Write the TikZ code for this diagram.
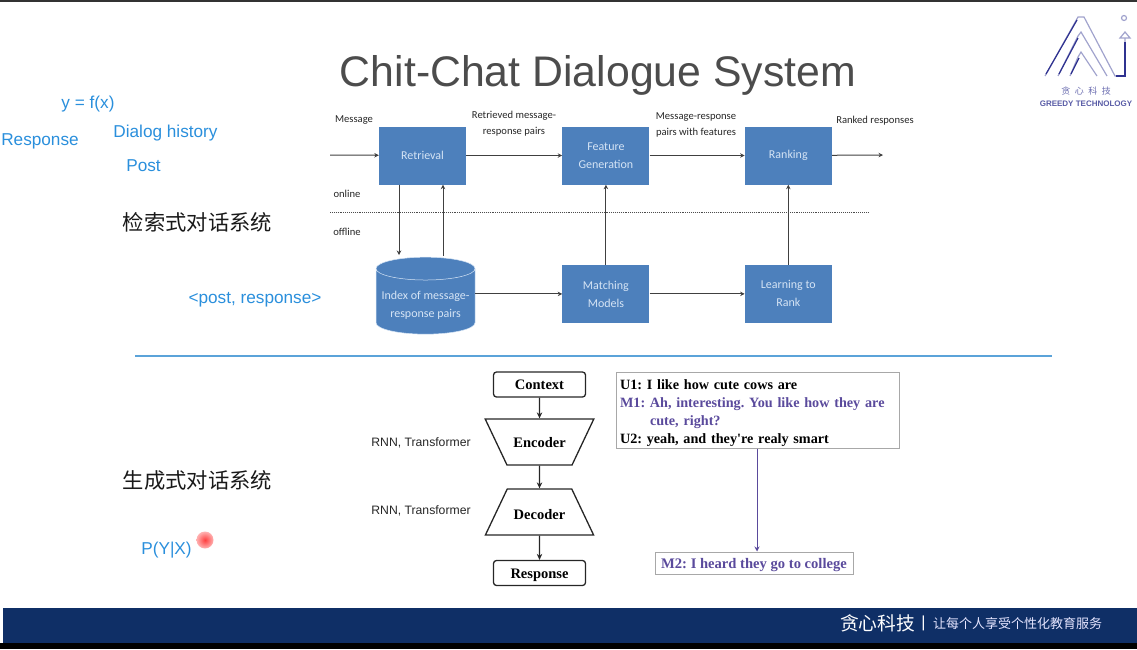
\documentclass[tikz,border=0pt]{standalone}
\usepackage{fontspec}
\setmainfont{Liberation Sans}
\newfontfamily\cjkfont{Noto Sans CJK SC}
\newfontfamily\flowfont{Carlito}
\newfontfamily\serfont{Liberation Serif}
\usetikzlibrary{positioning,shapes,arrows.meta}
\definecolor{boxblue}{HTML}{4D80BC}
\definecolor{boxtext}{HTML}{D5E4F5}
\definecolor{noteblue}{HTML}{2A8FDC}
\definecolor{divblue}{HTML}{5BA3D9}
\definecolor{barblue}{HTML}{0F2F66}
\definecolor{mpurple}{HTML}{5A4A9C}
\definecolor{framegray}{HTML}{A8A8A8}
\definecolor{logoblue}{HTML}{2F3290}
\tikzset{
  link/.style={-{Stealth[length=4.5pt,width=4.5pt]},black!75,line width=1pt},
  flowbox/.style={rectangle,fill=boxblue,minimum width=87pt,minimum height=58pt,inner sep=0pt,
    align=center,text=boxtext,font=\flowfont\fontsize{12}{18}\selectfont},
  caption/.style={align=center,text=black!85,font=\flowfont\fontsize{10.6}{16}\selectfont,inner sep=0pt},
  note/.style={text=noteblue,font=\fontsize{17.2}{20}\selectfont,inner sep=0pt},
  sysname/.style={text=black!90,font=\cjkfont\fontsize{21.3}{24}\selectfont,inner sep=0pt},
  term/.style={rectangle,draw=black!85,line width=1.3pt,rounded corners=3pt,minimum width=92pt,
    minimum height=25pt,inner sep=0pt,text height=10.5pt,text depth=0pt,font=\serfont\bfseries\fontsize{14.5}{16}\selectfont},
  coder/.style={trapezium,draw=black!85,line width=1.3pt,trapezium stretches=true,trapezium left angle=#1,
    trapezium right angle=#1,minimum width=109pt,minimum height=46pt,inner sep=0pt,
    font=\serfont\bfseries\fontsize{14.5}{16}\selectfont},
  dark/.style={-{Stealth[length=6pt,width=5.5pt]},black!85,line width=1.3pt},
  rnn/.style={text=black!85,font=\fontsize{12.2}{14}\selectfont,inner sep=0pt},
}
\begin{document}
\begin{tikzpicture}[x=1pt,y=-1pt]
\useasboundingbox (0,0) rectangle (1137,649);
% frame of the slide
\fill[black!80] (0,0) rectangle (1137,2);
\fill[barblue] (3,608) rectangle (1137,643);
\fill[black] (0,643) rectangle (1137,649);
\node[text=black!70,font=\fontsize{42.8}{50}\selectfont,inner sep=0pt] (title) at (598,75) {Chit-Chat Dialogue System};

% logo
\begin{scope}[logoblue!45,line width=1.2pt]
  \draw (1045,76) -- (1078,17) -- (1084,17) -- (1115,76) -- (1125,76) -- (1125,38);
  \draw (1058,76) -- (1078,36) -- (1081,32) -- (1107,76);
  \draw (1070,76) -- (1078,57) -- (1081,52) -- (1097,76);
  \draw (1120,38) -- (1125,32) -- (1130,38) -- cycle;
  \draw (1124,18) circle (2.5pt);
\end{scope}
\begin{scope}[logoblue,line width=1.2pt]
  \draw (1046,74) -- (1077,20);
  \draw (1059,74) -- (1078,38);
  \draw (1071,74) -- (1079,58);
  \draw (1116,76) -- (1125,76) -- (1125,42);
\end{scope}
\node[text=logoblue!70,font=\cjkfont\fontsize{9}{10}\selectfont,inner sep=0pt] (logocn) at (1086,91) {贪\,\,\,心\,\,\,科\,\,\,技};
\node[text=logoblue!80,font=\bfseries\fontsize{8}{9}\selectfont,inner sep=0pt] (logoen) at (1086,104) {GREEDY TECHNOLOGY};

% blue notes
\node[note] (fx) at (88,104.5) {y = f(x)};
\node[note] (resp) at (40,141.5) {Response};
\node[note] (hist) at (165.5,133.5) {Dialog history};
\node[note] (post) at (143.5,166) {Post};
\node[note] (pair) at (255,300) {<post, response>};
\node[note] (pyx) at (166.5,550.5) {P(Y|X)};
\node[circle,minimum size=17pt,inner sep=0pt,inner color=red!75!white,outer color=red!30!white] (dot) at (205,540) {};

\node[sysname] (sys1) at (197.5,222) {检索式对话系统};
\node[sysname] (sys2) at (197.5,480) {生成式对话系统};

% upper system
\node[flowbox] (retrieval) at (422.5,155.5) {Retrieval};
\node[flowbox,right=96pt of retrieval] (feature) {Feature\\Generation};
\node[flowbox,right=95pt of feature] (ranking) {Ranking};
\node[flowbox,below=80pt of feature] (matching) {Matching\\Models};
\node[flowbox,below=80pt of ranking] (learning) {Learning to\\Rank};
\node[cylinder,shape border rotate=90,aspect=0.26,fill=boxblue,draw=boxtext,line width=0.5pt,minimum width=99pt,minimum height=77pt,
  inner sep=0pt,align=center,text=boxtext,font=\flowfont\fontsize{12}{18}\selectfont] (index) at (425.5,301.5)
  {\rule{0pt}{15pt}Index of message-\\response pairs};

\coordinate (msgin) at (330,155);
\coordinate (rankout) at (883,155);
\coordinate (idxdown) at (399,255);
\coordinate (idxup) at (443,256);
\coordinate (lineleft) at (330,212);
\coordinate (lineright) at (869,212);

\draw[link] (msgin) -- (retrieval);
\draw[link] (retrieval) -- (feature);
\draw[link] (feature) -- (ranking);
\draw[link] (ranking) -- (rankout);
\draw[link] (idxdown |- retrieval.south) -- (idxdown);
\draw[link] (idxup) -- (idxup |- retrieval.south);
\draw[link] (index.east |- matching) -- (matching);
\draw[link] (matching) -- (learning);
\draw[link] (matching) -- (feature);
\draw[link] (learning) -- (ranking);
\draw[black!70,line width=0.9pt,densely dotted] (lineleft) -- (lineright);

\node[caption] (message) at (354,120.5) {Message};
\node[caption] (retrieved) at (514,124) {Retrieved message-\\response pairs};
\node[caption] (withfeat) at (696,124.5) {Message-response\\pairs with features};
\node[caption] (ranked) at (875,121) {Ranked responses};
\node[caption] (online) at (347,194) {online};
\node[caption] (offline) at (347,232) {offline};

% divider
\coordinate (divleft) at (135,356);
\coordinate (divright) at (1052,356);
\draw[divblue,line width=1.2pt] (divleft) -- (divright);

% lower system
\node[term] (context) at (539.5,384.5) {Context};
\node[coder=33.6,shape border rotate=180] (encoder) at (539.5,442) {\rule{0pt}{11.5pt}Encoder};
\node[coder=41.9] (decoder) at (539.5,512) {\rule{0pt}{15.5pt}Decoder};
\node[term] (response) at (539.5,573) {Response};
\draw[dark] (context) -- (encoder);
\draw[dark] (encoder) -- (decoder);
\draw[dark] (decoder) -- (response);
\node[rnn] (rnn1) at (421,443) {RNN, Transformer};
\node[rnn] (rnn2) at (421,511) {RNN, Transformer};

\node[draw=framegray,line width=1pt,minimum width=283pt,minimum height=76pt,inner sep=0pt,inner xsep=4pt,align=left,
  text width=275pt,font=\serfont\bfseries\frenchspacing\fontsize{14.2}{17.7}\selectfont] (dialog) at (757.5,410)
  {\rule{0pt}{16pt}U1: I like how cute cows are\\
   \textcolor{mpurple}{M1: Ah, interesting. You like how they are}\\
   \textcolor{mpurple}{\hspace*{30pt}cute, right?}\\
   U2: yeah, and they're realy smart};
\node[draw=framegray,line width=1pt,minimum width=198pt,minimum height=22pt,inner sep=0pt,text=mpurple,
  font=\serfont\bfseries\frenchspacing\fontsize{14.6}{16}\selectfont] (mtwo) at (754,563) {\rule{0pt}{15pt}M2: I heard they go to college};
\draw[-{Stealth[length=5pt,width=5pt]},mpurple,line width=1pt] (dialog.south -| 757,0) -- (mtwo.north -| 757,0);

% footer
\node[text=white,font=\cjkfont\fontsize{18.75}{20}\selectfont,inner sep=0pt] (brand) at (877.5,623) {贪心科技};
\node[text=white,font=\fontsize{16}{18}\selectfont,inner sep=0pt] (barsep) at (923.5,623) {|};
\node[text=white!90!blue,font=\cjkfont\fontsize{13}{15}\selectfont,inner sep=0pt] (slogan) at (1017.5,624) {让每个人享受个性化教育服务};
\end{tikzpicture}
\end{document}
